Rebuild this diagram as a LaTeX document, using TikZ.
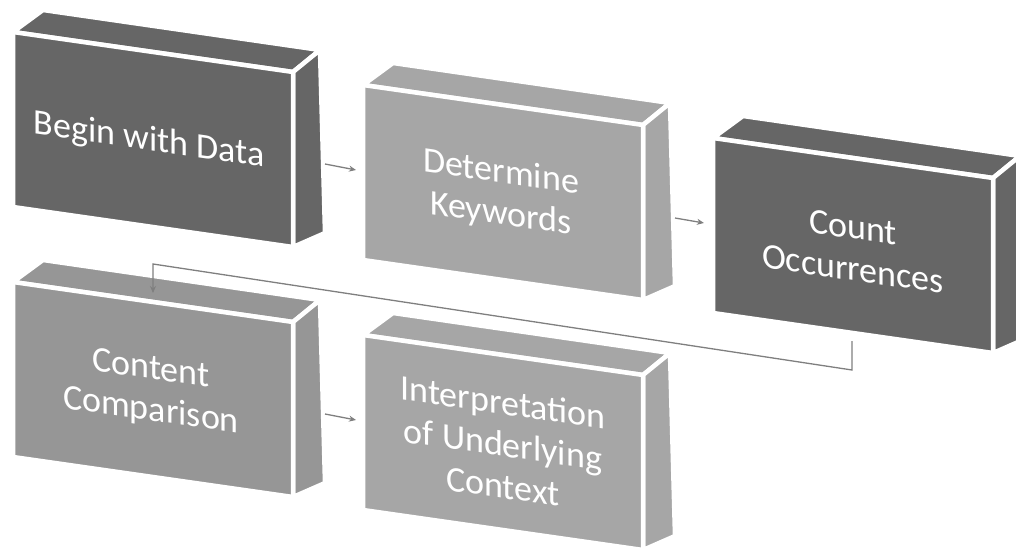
\documentclass[tikz,border=0pt]{standalone}
\usepackage{fontspec}
\setmainfont{Carlito}
\usetikzlibrary{arrows.meta}
\definecolor{darkblk}{HTML}{666666}
\definecolor{lightblk}{HTML}{A6A6A6}
\definecolor{midblk}{HTML}{969696}
\definecolor{conn}{HTML}{7F7F7F}
\newcommand{\drawblock}[2]{%
  \begin{scope}[shift={#1}]
    \filldraw[face,fill=#2] (0,0) -- (30,-22) -- (307,18) -- (280,40) -- cycle;
    \filldraw[face,fill=#2] (280,40) -- (307,18) -- (312,201) -- (280,215) -- cycle;
    \filldraw[face,fill=#2] (0,0) -- (280,40) -- (280,215) -- (0,175) -- cycle;
  \end{scope}}
\begin{document}
\begin{tikzpicture}[x=1pt,y=-1pt,
  face/.style={draw=white,line width=4.5pt,line join=round},
  label/.style={text=white,align=center,font=\fontsize{36}{42}\selectfont,yslant=-0.143,inner sep=0pt},
  conline/.style={draw=conn,line width=1.3pt},
  arr/.style={conline,-{Stealth[length=7pt,width=6pt]}}]
\useasboundingbox (0,0) rectangle (1016,548);
\drawblock{(13,32)}{darkblk}
\drawblock{(363,85)}{lightblk}
\drawblock{(713,138)}{darkblk}
\drawblock{(13,282)}{midblk}
\drawblock{(363,335)}{lightblk}
\node[label] (t1) at (149,141) {Begin with Data};
\node[label] (t2) at (501,194) {Determine\\Keywords};
\node[label] (t3) at (853,248) {Count\\Occurrences};
\node[label] (t4) at (151,391) {Content\\Comparison};
\node[label] (t5) at (503,444) {Interpretation\\of Underlying\\Context};
\coordinate (o1) at (325,164);
\coordinate (i2) at (356,170);
\coordinate (o2) at (675,218);
\coordinate (i3) at (704,223);
\coordinate (o3) at (852,341);
\coordinate (k1) at (852,370);
\coordinate (k2) at (153,264);
\coordinate (i4) at (153,293);
\coordinate (o4) at (325,414);
\coordinate (i5) at (356,420);
\draw[arr] (o1) -- (i2);
\draw[arr] (o2) -- (i3);
\draw[arr] (o3) -- (k1) -- (k2) -- (i4);
\draw[arr] (o4) -- (i5);
\end{tikzpicture}
\end{document}
